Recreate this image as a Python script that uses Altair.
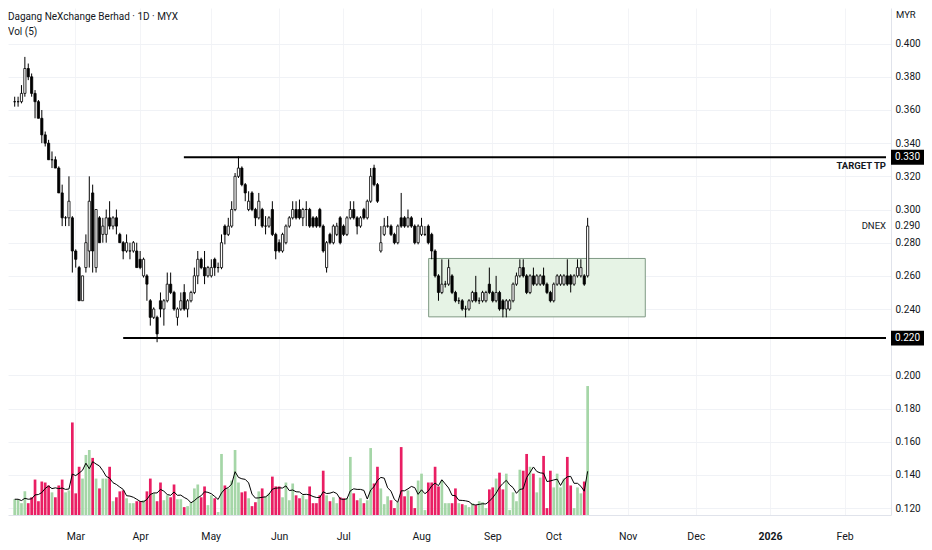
import altair as alt
import pandas as pd

# ---------------- data ----------------
opens = [
    .365, .365, .365, .370, .385, .380, .370, .365, .355, .345,
    .340, .330, .330, .325, .310, .295, .295, .295, .275, .265,
    .245, .265, .275, .310, .265, .295, .285, .285, .295, .290,
    .295, .285, .280, .275, .275, .275, .275, .270, .260, .260,
    .245, .235, .235, .245, .240, .245, .255, .250, .235, .240,
    .250, .240, .245, .250, .260, .270, .265, .260, .260, .270,
    .265, .265, .290, .285, .290, .300, .320, .325, .315, .300,
    .310, .300, .295, .300, .290, .290, .300, .285, .280, .275,
    .280, .290, .295, .300, .300, .295, .300, .300, .295, .295,
    .300, .290, .265, .285, .280, .285, .295, .290, .285, .295,
    .300, .295, .290, .300, .295, .305, .325, .315, .275, .285,
    .290, .290, .285, .280, .295, .295, .290, .295, .290, .280,
    .285, .285, .290, .285, .275, .260, .250, .255, .255, .260,
    .250, .245, .245, .240, .240, .245, .250, .245, .245, .245,
    .255, .250, .245, .250, .245, .240, .240, .245, .255, .260,
    .265, .260, .250, .260, .255, .255, .260, .255, .250, .245,
    .255, .255, .255, .260, .260, .255, .260, .260, .260, .260,
]
highs = [
    .368, .368, .375, .392, .388, .382, .372, .366, .360, .347,
    .342, .335, .332, .326, .315, .296, .320, .296, .276, .266,
    .260, .285, .320, .315, .300, .296, .295, .300, .305, .296,
    .300, .286, .281, .285, .280, .281, .280, .275, .271, .261,
    .246, .241, .236, .250, .246, .262, .262, .251, .241, .250,
    .255, .246, .251, .265, .275, .271, .275, .266, .270, .271,
    .268, .285, .291, .295, .305, .322, .332, .326, .316, .311,
    .311, .301, .310, .301, .296, .296, .305, .286, .282, .286,
    .291, .296, .305, .305, .306, .301, .305, .301, .296, .296,
    .301, .291, .281, .286, .291, .292, .296, .291, .296, .305,
    .305, .296, .296, .301, .306, .325, .327, .316, .290, .295,
    .296, .291, .286, .291, .310, .296, .300, .296, .291, .291,
    .295, .290, .291, .286, .276, .261, .270, .257, .270, .261,
    .251, .247, .246, .242, .246, .251, .260, .247, .251, .251,
    .265, .251, .260, .251, .246, .246, .246, .256, .262, .270,
    .270, .261, .261, .265, .261, .261, .265, .256, .251, .256,
    .261, .261, .261, .270, .261, .261, .270, .270, .261, .295,
]
lows = [
    .362, .362, .364, .368, .378, .368, .355, .355, .340, .338,
    .330, .325, .325, .310, .290, .290, .290, .262, .265, .245,
    .245, .262, .265, .262, .262, .280, .280, .280, .288, .288,
    .285, .280, .270, .274, .270, .274, .265, .264, .259, .245,
    .230, .234, .220, .235, .230, .244, .249, .239, .230, .239,
    .239, .235, .244, .249, .255, .264, .255, .259, .259, .260,
    .262, .264, .279, .284, .289, .299, .319, .314, .305, .299,
    .299, .290, .294, .289, .285, .289, .284, .270, .274, .274,
    .279, .289, .294, .294, .294, .290, .290, .289, .289, .289,
    .289, .274, .262, .279, .279, .284, .279, .284, .284, .294,
    .294, .285, .289, .294, .294, .304, .314, .304, .274, .284,
    .289, .284, .279, .279, .289, .289, .289, .289, .279, .279,
    .284, .284, .279, .270, .259, .245, .249, .253, .254, .249,
    .244, .243, .239, .235, .239, .244, .244, .243, .244, .244,
    .249, .244, .244, .239, .235, .235, .239, .244, .254, .259,
    .259, .249, .249, .254, .254, .254, .254, .249, .244, .244,
    .254, .254, .254, .254, .250, .254, .259, .259, .254, .259,
]
closes = [
    .365, .365, .370, .385, .380, .370, .365, .355, .345, .340,
    .330, .330, .325, .310, .295, .295, .305, .275, .270, .245,
    .260, .280, .305, .275, .300, .280, .290, .295, .290, .295,
    .290, .280, .275, .280, .275, .280, .265, .265, .270, .255,
    .235, .240, .225, .240, .245, .255, .250, .240, .240, .245,
    .240, .245, .250, .260, .270, .265, .260, .265, .265, .265,
    .265, .280, .285, .290, .300, .320, .325, .315, .310, .305,
    .300, .295, .305, .290, .290, .295, .285, .275, .275, .285,
    .290, .295, .300, .295, .295, .300, .300, .290, .290, .290,
    .290, .275, .280, .280, .290, .290, .280, .285, .295, .300,
    .295, .290, .295, .295, .305, .320, .315, .305, .280, .290,
    .290, .285, .280, .290, .290, .290, .295, .290, .280, .290,
    .290, .285, .280, .275, .260, .250, .255, .255, .265, .250,
    .245, .245, .240, .240, .245, .250, .245, .245, .250, .250,
    .250, .245, .250, .240, .240, .245, .245, .255, .260, .265,
    .260, .250, .260, .255, .260, .260, .255, .250, .245, .255,
    .260, .260, .260, .255, .255, .260, .265, .265, .255, .290,
]
volumes = [
    16, 16, 12, 24, 12, 18, 36, 14, 34, 33,
    30, 23, 18, 30, 36, 23, 25, 94, 22, 49,
    37, 61, 66, 58, 37, 27, 37, 37, 49, 14,
    18, 24, 25, 17, 12, 12, 14, 14, 15, 24,
    37, 22, 14, 33, 15, 20, 18, 31, 16, 16,
    8, 9, 13, 27, 31, 18, 29, 10, 20, 17,
    3, 62, 30, 27, 35, 66, 33, 23, 24, 17,
    9, 13, 24, 27, 19, 22, 39, 29, 29, 18,
    33, 15, 32, 20, 17, 20, 16, 29, 12, 12,
    20, 45, 20, 14, 18, 12, 18, 17, 17, 59,
    22, 15, 17, 12, 15, 68, 32, 49, 27, 11,
    19, 15, 7, 13, 69, 19, 25, 19, 7, 35,
    42, 5, 33, 33, 49, 29, 35, 12, 12, 12,
    27, 12, 11, 10, 8, 12, 10, 14, 13, 7,
    26, 28, 37, 43, 26, 42, 5, 23, 14, 46,
    45, 62, 49, 42, 23, 38, 60, 7, 45, 28,
    42, 28, 37, 59, 30, 7, 28, 22, 34, 131,
]

# x axis: bar index of the first session of each month, and its label
month_ticks = [17.9, 37.0, 57.8, 78.0, 96.9, 119.9, 140.9, 158.9, 180.8, 200.9, 222.8, 244.8]
month_labels = ["Mar", "Apr", "May", "Jun", "Jul", "Aug", "Sep", "Oct", "Nov", "Dec", "2026", "Feb"]
year_tick = 222.8
price_ticks = [0.12, 0.14, 0.16, 0.18, 0.20, 0.24, 0.26, 0.28, 0.30, 0.32, 0.34, 0.36, 0.38, 0.40]

# drawn horizontal levels
level_prices = [0.3315, 0.2225]
level_labels = ["0.330", "0.220"]
level_start = [49.9, 32.0]
target_note = ["TARGET  TP"]

# consolidation box
box_left, box_right = [122.1], [186.0]
box_low, box_high = [0.2353], [0.2705]

title_text = "Dagang NeXchange Berhad \u00b7 1D \u00b7 MYX"
vol_text = "Vol (5)"
symbol = "DNEX"
currency = "MYR"

# ---------------- chart ----------------
X_MIN, X_MAX = -0.5, 257.0
P_MIN, P_MAX = 0.11585, 0.42148
W, H = 883, 507
FONT = "Roboto, Liberation Sans, sans-serif"
TXT = "#131722"

df = pd.DataFrame({"i": list(range(len(closes))), "o": opens, "h": highs,
                   "l": lows, "c": closes, "vol": volumes})

label_expr = "[" + ",".join("'%s'" % m for m in month_labels) + "][indexof([" + \
    ",".join(str(t) for t in month_ticks) + "], datum.value)]"

xscale = alt.Scale(domain=[X_MIN, X_MAX], nice=False, zero=False)
xaxis = alt.Axis(values=month_ticks, labelExpr=label_expr, title=None, ticks=False,
                 grid=True, gridColor="#f3f4f7", domainColor="#e0e3eb",
                 labelFont=FONT, labelFontSize=10.5, labelColor=TXT, labelPadding=16,
                 labelFontWeight={"condition": {"test": "datum.value == %s" % year_tick,
                                                "value": "bold"}, "value": "normal"})
yscale = alt.Scale(domain=[P_MIN, P_MAX], nice=False, zero=False)
yaxis = alt.Axis(orient="right", values=price_ticks, format=".3f", title=None, ticks=False,
                 grid=True, gridColor="#f0f2f6", domainColor="#e0e3eb",
                 labelFont=FONT, labelFontSize=10, labelColor=TXT, labelPadding=4)

base = alt.Chart(df)

wicks = base.mark_rule(color="black", strokeWidth=1).encode(
    x=alt.X("i:Q", scale=xscale, axis=xaxis),
    y=alt.Y("l:Q", scale=yscale, axis=yaxis),
    y2="h:Q",
)
bodies = base.mark_bar(width=2.2, stroke="black", strokeWidth=0.8).encode(
    x=alt.X("i:Q", scale=xscale, axis=xaxis),
    y=alt.Y("o:Q", scale=yscale, axis=yaxis),
    y2="c:Q",
    fill=alt.condition("datum.c >= datum.o", alt.value("white"), alt.value("black")),
)

box_df = pd.DataFrame({"x1": box_left, "x2": box_right, "y1": box_low, "y2": box_high})
box = alt.Chart(box_df).mark_rect(fill="#e6f3e5", stroke="#7f9984", strokeWidth=1).encode(
    x=alt.X("x1:Q", scale=xscale, axis=xaxis), x2="x2:Q",
    y=alt.Y("y1:Q", scale=yscale, axis=yaxis), y2="y2:Q",
)

lv_df = pd.DataFrame({"p": level_prices, "lab": level_labels, "x1": level_start,
                      "x2": [X_MAX] * len(level_prices)})
levels = alt.Chart(lv_df).mark_rule(color="black", strokeWidth=2).encode(
    x=alt.X("x1:Q", scale=xscale, axis=xaxis), x2="x2:Q",
    y=alt.Y("p:Q", scale=yscale, axis=yaxis),
)
badge = alt.Chart(lv_df).mark_point(shape="M-1,-0.45H1V0.45H-1Z", size=33 * 33,
                                    filled=True, color="black", opacity=1).encode(
    x=alt.value(W + 16.5), y=alt.Y("p:Q", scale=yscale, axis=yaxis),
)
badge_txt = alt.Chart(lv_df).mark_text(font=FONT, fontSize=10, color="white",
                                       align="center", baseline="middle").encode(
    x=alt.value(W + 16.5), y=alt.Y("p:Q", scale=yscale, axis=yaxis), text="lab:N",
)
tgt_df = pd.DataFrame({"p": [level_prices[0]], "t": target_note})
target = alt.Chart(tgt_df).mark_text(font=FONT, fontSize=9.5, fontWeight="bold", color=TXT,
                                     align="right", baseline="middle", dy=9).encode(
    x=alt.value(878), y=alt.Y("p:Q", scale=yscale, axis=yaxis), text="t:N",
)

last_df = pd.DataFrame({"c": [closes[-1]], "s": [symbol]})
sym_txt = alt.Chart(last_df).mark_text(font=FONT, fontSize=9.5, color=TXT,
                                       align="right", baseline="middle").encode(
    x=alt.value(878), y=alt.Y("c:Q", scale=yscale, axis=yaxis), text="s:N",
)
last_txt = alt.Chart(last_df).mark_text(font=FONT, fontSize=10, color=TXT,
                                        align="left", baseline="middle").encode(
    x=alt.value(W + 4), y=alt.Y("c:Q", scale=yscale, axis=yaxis),
    text=alt.Text("c:Q", format=".3f"),
)

hdr_df = pd.DataFrame({"t": [title_text], "v": [vol_text], "m": [currency]})
title = alt.Chart(hdr_df).mark_text(font=FONT, fontSize=10, color=TXT, align="left",
                                    baseline="middle").encode(
    x=alt.value(0), y=alt.value(9), text="t:N")
vtitle = alt.Chart(hdr_df).mark_text(font=FONT, fontSize=10, color=TXT, align="left",
                                     baseline="middle").encode(
    x=alt.value(0), y=alt.value(24), text="v:N")
cur = alt.Chart(hdr_df).mark_text(font=FONT, fontSize=9.5, color=TXT, align="left",
                                  baseline="middle").encode(
    x=alt.value(W + 5), y=alt.value(7), text="m:N")

price_layer = alt.layer(box, levels, wicks, bodies, target, sym_txt,
                        badge, badge_txt, last_txt, title, vtitle, cur)

vscale = alt.Scale(domain=[0, 515], nice=False, zero=True)
vbars = base.mark_bar(width=2.7).encode(
    x=alt.X("i:Q", scale=xscale, axis=xaxis),
    y=alt.Y("vol:Q", scale=vscale, axis=None),
    color=alt.condition("datum.c >= datum.o", alt.value("#a5d6a7"), alt.value("#e91e63")),
)
vma = base.transform_window(
    ma="mean(vol)", frame=[-4, 0], sort=[alt.SortField("i")]
).mark_line(color="black", strokeWidth=1).encode(
    x=alt.X("i:Q", scale=xscale, axis=xaxis),
    y=alt.Y("ma:Q", scale=vscale, axis=None),
)
vol_layer = alt.layer(vbars, vma)

chart = alt.layer(vol_layer, price_layer).resolve_scale(y="independent").properties(
    width=W, height=H,
    padding={"left": 0, "top": 0, "right": 33, "bottom": 27},
    autosize=alt.AutoSizeParams(type="none"),
    background="white",
).configure_view(strokeWidth=0)

chart.save("out.html", embed_options={"renderer": "svg", "actions": False})
